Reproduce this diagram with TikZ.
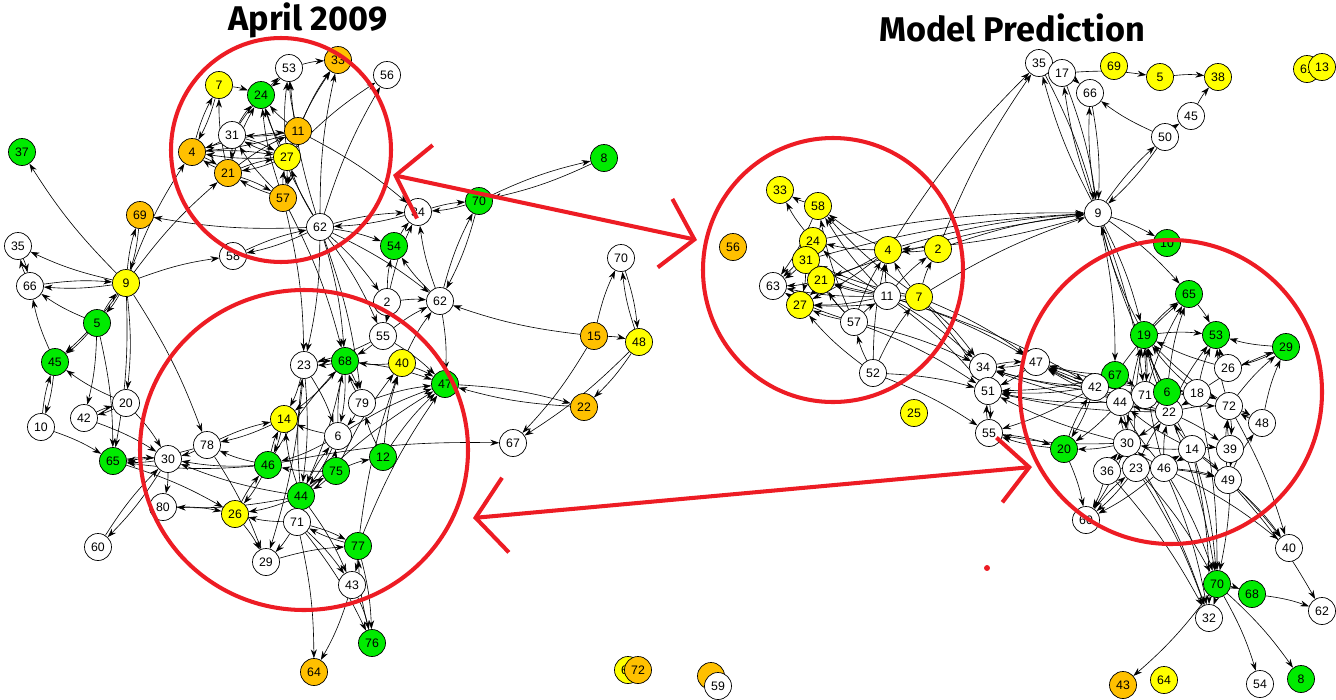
\documentclass[tikz,border=0pt]{standalone}
\usepackage{fontspec}
\setsansfont{Liberation Sans}
\newfontfamily\headfont{Fira Sans}
\usetikzlibrary{arrows.meta,backgrounds}

\definecolor{nyellow}{RGB}{255,255,0}
\definecolor{norange}{RGB}{255,192,0}
\definecolor{ngreen}{RGB}{0,235,0}
\definecolor{markred}{RGB}{237,28,36}

\begin{document}
\begin{tikzpicture}[x=0.02cm, y=-0.02cm,
    nd/.style={circle, draw, line width=.4pt, minimum size=0.54cm, inner sep=0pt, font=\sffamily\fontsize{7}{8}\selectfont},
    lnk/.style={-{Stealth[length=5pt,width=3.4pt]}, line width=.35pt, bend left=6},
    redmark/.style={draw=markred, line width=2.3pt},
    headline/.style={font=\headfont\bfseries\fontsize{19.5}{22}\selectfont}]
  \useasboundingbox (0,0) rectangle (1336,700);

  \node[headline] (t-l) at (308,20) {April 2009};
  \node[headline] (t-r) at (1012,28) {Model Prediction};

  % April 2009
  \foreach \n/\x/\y/\c in {53/289/68/white, 33/338/60/norange, 56/387/75/white, 7/219/85/nyellow,
      24/261/95/ngreen, 31/232/135/white, 11/298/131/norange, 4/192/152/norange, 27/287/157/nyellow,
      21/228/173/norange, 57/283/198/norange, 34/418/212/white, 69/140/215/norange, 58/233/256/white,
      54/394/246/ngreen, 37/22/152/ngreen, 35/18/246/white, 66/30/286/white, 9/126/283/nyellow,
      8/604/158/ngreen, 70/479/201/ngreen, 62/440/301/white, 15/594/336/norange, 48/639/342/nyellow,
      47/445/384/ngreen, 22/584/407/norange, 67/513/443/white, 5/97/323/ngreen, 45/55/362/ngreen,
      20/126/403/white, 42/84/418/white, 10/41/427/white, 65/113/461/ngreen, 30/168/459/white,
      78/207/445/white, 80/163/507/white, 26/235/514/nyellow, 14/284/419/nyellow, 46/268/465/ngreen,
      44/301/496/ngreen, 71/297/522/white, 23/304/365/white, 68/345/361/ngreen, 55/383/336/white,
      40/402/363/nyellow, 2/387/302/white, 79/362/403/white, 6/338/436/white, 75/336/471/ngreen,
      12/383/457/ngreen, 77/358/546/ngreen, 29/266/562/white, 43/352/585/white, 76/372/643/ngreen,
      64/314/672/norange, 60/98/547/white, 61/628/670/nyellow, 72/638/670/norange}
    \node[nd, fill=\c] (l-\n) at (\x,\y) {\n};
  \node[nd, fill=white] (l-62u) at (320,227) {62};
  \node[nd, fill=white] (l-70b) at (621,258) {70};
  \node[nd, fill=norange] (l-x1) at (711,676) {};
  \node[nd, fill=white] (l-59) at (718,686) {59};

  % Model Prediction
  \foreach \n/\x/\y/\c in {35/1039/63/white, 17/1062/73/white, 66/1090/93/white, 69/1114/66/nyellow,
      5/1160/77/nyellow, 38/1218/77/nyellow, 45/1191/116/white, 50/1165/137/white, 9/1098/213/white,
      10/1167/243/ngreen, 65/1189/294/ngreen, 61/1307/69/nyellow, 13/1322/67/nyellow,
      33/780/190/nyellow, 56/733/247/norange, 58/818/206/nyellow, 24/813/241/nyellow, 31/806/260/nyellow,
      21/821/280/nyellow, 63/773/286/white, 27/800/305/nyellow, 4/888/250/nyellow, 2/938/249/nyellow,
      11/887/296/white, 7/919/297/nyellow, 57/854/322/white, 52/873/373/white, 34/983/367/white,
      51/988/391/white, 25/914/413/nyellow, 55/989/433/white, 19/1144/335/ngreen, 53/1216/335/ngreen,
      29/1286/347/ngreen, 47/1036/362/white, 26/1228/368/white, 67/1115/375/ngreen, 42/1095/387/white,
      44/1120/402/white, 71/1145/395/white, 22/1169/412/white, 6/1167/392/ngreen, 18/1197/393/white,
      72/1229/406/white, 48/1262/423/white, 20/1064/449/ngreen, 30/1127/443/white, 14/1192/449/white,
      39/1230/449/white, 36/1107/471/white, 23/1136/468/white, 46/1164/468/white, 49/1228/480/white,
      60/1086/520/white, 40/1289/548/white, 70/1217/584/ngreen, 68/1252/594/ngreen, 32/1209/618/white,
      62/1322/611/white, 43/1123/685/norange, 64/1164/680/nyellow, 54/1260/684/white, 8/1301/679/ngreen}
    \node[nd, fill=\c] (r-\n) at (\x,\y) {\n};

  \begin{pgfonlayer}{background}
  \path[lnk]
    (l-9) edge (l-4) edge (l-21) edge (l-69) edge (l-37) edge (l-35) edge (l-66) edge (l-58)
          edge (l-5) edge (l-65) edge (l-20) edge (l-78) edge (l-45)
    (l-69) edge (l-9)
    (l-66) edge (l-9) edge (l-35)
    (l-35) edge (l-66)
    (l-5) edge (l-9) edge (l-45) edge (l-42) edge (l-65) edge (l-66)
    (l-45) edge (l-10) edge (l-66)
    (l-10) edge (l-45) edge (l-65)
    (l-20) edge (l-42) edge (l-30) edge (l-45)
    (l-42) edge (l-20) edge (l-30)
    (l-65) edge (l-30) edge (l-26)
    (l-30) edge (l-65) edge (l-80) edge (l-60)
    (l-60) edge (l-30)
    (l-78) edge (l-30) edge (l-65) edge (l-29) edge (l-14)
    (l-80) edge (l-26)
    (l-31) edge (l-24) edge (l-53) edge (l-4) edge (l-27) edge (l-21)
    (l-21) edge (l-24) edge (l-7) edge (l-4) edge (l-27) edge (l-11) edge (l-57)
    (l-27) edge (l-24) edge (l-53) edge (l-33) edge (l-4) edge (l-21) edge (l-31) edge (l-11)
           edge (l-57) edge (l-56)
    (l-11) edge (l-24) edge (l-53) edge (l-33) edge (l-4) edge (l-27) edge (l-31) edge (l-57) edge (l-34)
    (l-57) edge (l-24) edge (l-27) edge (l-21) edge (l-31) edge (l-23) edge (l-68)
    (l-4) edge (l-7) edge (l-27) edge (l-21) edge (l-11)
    (l-7) edge (l-4) edge (l-24)
    (l-53) edge (l-24) edge (l-33)
    (l-62u) edge (l-24) edge (l-53) edge (l-33) edge (l-27) edge (l-69) edge (l-58) edge (l-34)
            edge (l-56) edge (l-54) edge (l-23) edge (l-68) edge (l-55) edge (l-2) edge (l-62) edge (l-79)
    (l-58) edge (l-62u)
    (l-34) edge (l-62u) edge (l-70)
    (l-70) edge (l-34) edge (l-8) edge (l-62)
    (l-8) edge (l-70)
    (l-62) edge (l-70) edge (l-34) edge (l-54) edge (l-47)
    (l-54) edge (l-34)
    (l-2) edge (l-34) edge (l-54) edge (l-62) edge (l-55)
    (l-15) edge (l-62) edge (l-70b) edge (l-48) edge (l-67)
    (l-70b) edge (l-48)
    (l-48) edge (l-70b) edge (l-22) edge (l-67)
    (l-47) edge (l-22)
    (l-22) edge (l-47)
    (l-23) edge (l-14) edge (l-68) edge (l-6) edge (l-44) edge (l-29)
    (l-68) edge (l-23) edge (l-47) edge (l-6) edge (l-79) edge (l-44) edge (l-14)
    (l-55) edge (l-68) edge (l-23) edge (l-47) edge (l-62)
    (l-40) edge (l-68) edge (l-47) edge (l-62)
    (l-12) edge (l-40) edge (l-47) edge (l-79)
    (l-14) edge (l-46) edge (l-78)
    (l-46) edge (l-14) edge (l-78) edge (l-30) edge (l-65) edge (l-26) edge (l-67) edge (l-68)
    (l-44) edge (l-14) edge (l-6) edge (l-30) edge (l-80) edge (l-26) edge (l-47) edge (l-75)
           edge (l-71) edge (l-23) edge (l-43)
    (l-6) edge (l-14) edge (l-46) edge (l-44) edge (l-47) edge (l-68)
    (l-75) edge (l-46) edge (l-6) edge (l-44) edge (l-40) edge (l-12)
    (l-79) edge (l-6) edge (l-47) edge (l-68)
    (l-26) edge (l-46) edge (l-29)
    (l-71) edge (l-26) edge (l-44) edge (l-29) edge (l-77) edge (l-43) edge (l-76) edge (l-64)
    (l-29) edge (l-77)
    (l-77) edge (l-71) edge (l-43) edge (l-76) edge (l-47) edge (l-40)
    (l-43) edge (l-76) edge (l-64)
    (l-76) edge (l-77);

  \path[lnk]
    (r-35) edge (r-9)
    (r-9) edge (r-35) edge (r-17) edge (r-66) edge (r-50) edge (r-4) edge (r-10) edge (r-65)
          edge (r-19) edge (r-67) edge (r-71)
    (r-17) edge (r-9) edge (r-66) edge (r-5)
    (r-66) edge (r-9)
    (r-50) edge (r-9) edge (r-45) edge (r-66)
    (r-45) edge (r-38)
    (r-5) edge (r-38)
    (r-4) edge (r-35) edge (r-9) edge (r-58) edge (r-24) edge (r-21) edge (r-27)
    (r-2) edge (r-35) edge (r-9) edge (r-4)
    (r-24) edge (r-9) edge (r-33) edge (r-63)
    (r-31) edge (r-9) edge (r-63) edge (r-27)
    (r-21) edge (r-9) edge (r-63) edge (r-27)
    (r-7) edge (r-9) edge (r-2) edge (r-4) edge (r-58) edge (r-31) edge (r-21) edge (r-27)
          edge (r-34) edge (r-51) edge (r-47)
    (r-11) edge (r-4) edge (r-58) edge (r-24) edge (r-31) edge (r-21) edge (r-27) edge (r-63)
           edge (r-2) edge (r-34) edge (r-51) edge (r-47) edge (r-42)
    (r-57) edge (r-58) edge (r-31) edge (r-21) edge (r-27) edge (r-4) edge (r-11) edge (r-34)
           edge (r-51) edge (r-63)
    (r-52) edge (r-27) edge (r-4) edge (r-7) edge (r-51) edge (r-55) edge (r-57)
    (r-58) edge (r-33) edge (r-63)
    (r-34) edge (r-47) edge (r-51)
    (r-47) edge (r-34) edge (r-51)
    (r-51) edge (r-55) edge (r-34)
    (r-55) edge (r-51) edge (r-20)
    (r-42) edge (r-51) edge (r-34) edge (r-47) edge (r-20) edge (r-55)
    (r-44) edge (r-51) edge (r-47) edge (r-42) edge (r-20) edge (r-30)
    (r-30) edge (r-51) edge (r-55) edge (r-20) edge (r-60) edge (r-36) edge (r-19) edge (r-44) edge (r-32)
    (r-71) edge (r-47) edge (r-65) edge (r-44) edge (r-22) edge (r-6) edge (r-34)
    (r-18) edge (r-47) edge (r-19) edge (r-29) edge (r-53) edge (r-72) edge (r-22) edge (r-6) edge (r-70)
    (r-67) edge (r-65) edge (r-42) edge (r-71) edge (r-47) edge (r-51)
    (r-19) edge (r-65) edge (r-9) edge (r-71) edge (r-53)
    (r-6) edge (r-65) edge (r-19) edge (r-22) edge (r-18) edge (r-9)
    (r-65) edge (r-53)
    (r-29) edge (r-53) edge (r-26)
    (r-26) edge (r-53) edge (r-19)
    (r-72) edge (r-29) edge (r-53) edge (r-19) edge (r-48) edge (r-39) edge (r-40)
    (r-48) edge (r-29) edge (r-72)
    (r-49) edge (r-72) edge (r-48) edge (r-62) edge (r-40)
    (r-39) edge (r-72) edge (r-49) edge (r-70)
    (r-14) edge (r-30) edge (r-44) edge (r-19) edge (r-22) edge (r-39) edge (r-49) edge (r-32)
           edge (r-40) edge (r-70) edge (r-46)
    (r-22) edge (r-51) edge (r-34) edge (r-47) edge (r-53) edge (r-19) edge (r-30) edge (r-44)
           edge (r-6) edge (r-39) edge (r-72) edge (r-70)
    (r-46) edge (r-14) edge (r-22) edge (r-30) edge (r-44) edge (r-19) edge (r-49) edge (r-60)
           edge (r-32) edge (r-40) edge (r-70)
    (r-23) edge (r-30) edge (r-22) edge (r-46) edge (r-49) edge (r-60) edge (r-19) edge (r-32) edge (r-70)
    (r-36) edge (r-30) edge (r-46) edge (r-60) edge (r-32)
    (r-20) edge (r-42) edge (r-60) edge (r-55)
    (r-60) edge (r-23)
    (r-70) edge (r-68) edge (r-32) edge (r-43) edge (r-54) edge (r-8)
    (r-68) edge (r-62);
  \end{pgfonlayer}

  % red marks
  \draw[redmark] (281,150) ellipse [x radius=110, y radius=112];
  \draw[redmark] (304,450) ellipse [x radius=164, y radius=160];
  \draw[redmark] (833,270) ellipse [x radius=130, y radius=132];
  \draw[redmark] (1171,392) ellipse [x radius=151, y radius=152];
  \coordinate (h-1a) at (393,175);
  \coordinate (h-1b) at (697,240);
  \coordinate (h-2a) at (473,518);
  \coordinate (h-2b) at (1032,467);
  \draw[redmark, {Straight Barb[length=0.6cm,width=1.5cm]}-{Straight Barb[length=0.6cm,width=1.4cm]}] (h-1a) -- (h-1b);
  \draw[redmark, {Straight Barb[length=0.6cm,width=1.5cm]}-{Straight Barb[length=0.6cm,width=1.3cm]}] (h-2a) -- (h-2b);
  \node[circle, fill=markred, inner sep=1.2pt] (dot) at (987,568) {};
\end{tikzpicture}
\end{document}
